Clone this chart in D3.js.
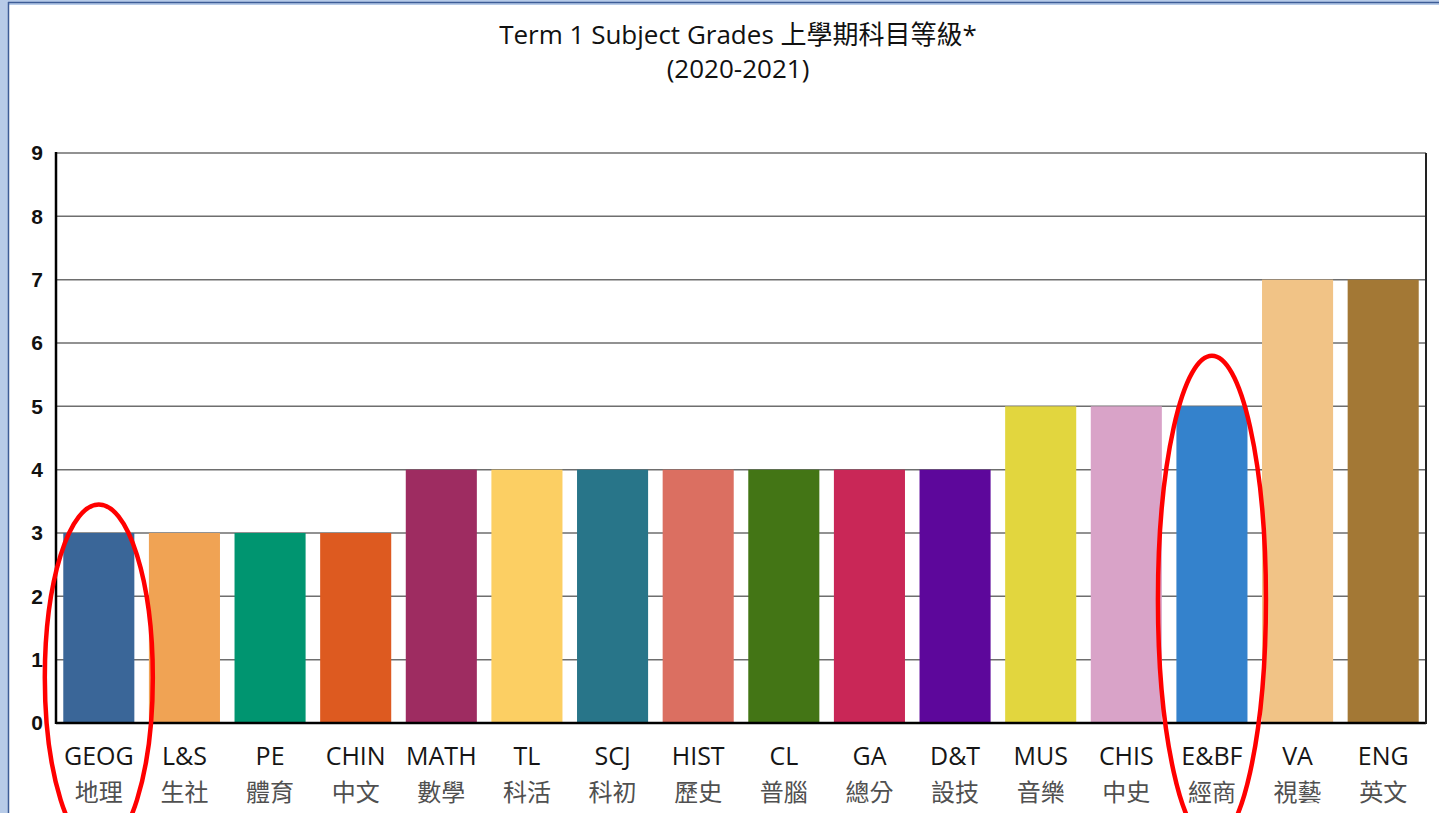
<!DOCTYPE html>
<html>
<head>
<meta charset="utf-8">
<script src="https://cdn.jsdelivr.net/npm/d3@7"></script>
<style>
  body { margin: 0; background: #fff; }
  svg { display: block; }
</style>
</head>
<body>
<div id="chart"></div>
<script>
// data
const subjects = ["GEOG", "L&S", "PE", "CHIN", "MATH", "TL", "SCJ", "HIST", "CL", "GA", "D&T", "MUS", "CHIS", "E&BF", "VA", "ENG"];
const subjectsZh = ["地理", "生社", "體育", "中文", "數學", "科活", "科初", "歷史", "普腦", "總分", "設技", "音樂", "中史", "經商", "視藝", "英文"];
const grades = [3, 3, 3, 3, 4, 4, 4, 4, 4, 4, 4, 5, 5, 5, 7, 7];
const barColors = ["#3a6698", "#f0a354", "#009570", "#dd5a20", "#9e2c61", "#fccf63", "#287589", "#db6f61",
                   "#437515", "#c92757", "#5d079b", "#e2d63e", "#d9a3c8", "#3482cc", "#f1c386", "#a37835"];
const yTicks = [0, 1, 2, 3, 4, 5, 6, 7, 8, 9];
const circled = ["GEOG", "E&BF"];

const width = 1439, height = 813,
    margin = {top: 153, bottom: 90, left: 56, right: 13};

const svg = d3.select("#chart")
    .append("svg")
    .attr("width", width)
    .attr("height", height);

// window frame
svg.append("rect").attr("x", 0).attr("y", 0).attr("width", 8).attr("height", height).attr("fill", "#b7cbe8");
svg.append("rect").attr("x", 0).attr("y", 0).attr("width", width).attr("height", 5).attr("fill", "#b7cbe8");
svg.append("line").attr("x1", 8.5).attr("x2", 8.5).attr("y1", 2).attr("y2", height)
    .attr("stroke", "#3d5c96").attr("stroke-width", 1.5);
svg.append("line").attr("x1", 8).attr("x2", width).attr("y1", 2.5).attr("y2", 2.5)
    .attr("stroke", "#3d5c96").attr("stroke-width", 1.5);

const xScale = d3.scaleBand()
    .domain(subjects)
    .range([margin.left, width - margin.right])
    .paddingInner(0.17)
    .paddingOuter(0.085);

const yScale = d3.scaleLinear()
    .domain([0, 9])
    .range([height - margin.bottom, margin.top]);

const colorScale = d3.scaleOrdinal().domain(subjects).range(barColors);

// title
const title = svg.append("text")
    .attr("text-anchor", "middle")
    .attr("font-family", "'Open Sans', 'Noto Sans CJK TC', sans-serif")
    .attr("font-size", 26)
    .attr("fill", "#111");
title.append("tspan").attr("x", 738).attr("y", 44).text("Term 1 Subject Grades 上學期科目等級*");
title.append("tspan").attr("x", 738).attr("y", 78).text("(2020-2021)");

// grid lines
svg.append("g")
    .selectAll("line")
    .data(yTicks.filter(d => d > 0))
    .join("line")
    .attr("x1", margin.left)
    .attr("x2", width - margin.right)
    .attr("y1", d => yScale(d))
    .attr("y2", d => yScale(d))
    .attr("stroke", "#6e6e6e")
    .attr("stroke-width", 1.5);

// bars
svg.append("g")
    .selectAll("rect")
    .data(subjects)
    .join("rect")
    .attr("x", d => xScale(d))
    .attr("y", (d, i) => yScale(grades[i]))
    .attr("width", xScale.bandwidth())
    .attr("height", (d, i) => yScale(0) - yScale(grades[i]))
    .attr("fill", d => colorScale(d));

// axes frame
svg.append("line")
    .attr("x1", margin.left).attr("x2", margin.left)
    .attr("y1", yScale(9) - 1).attr("y2", yScale(0) + 1)
    .attr("stroke", "#000").attr("stroke-width", 2.5);
svg.append("line")
    .attr("x1", margin.left).attr("x2", width - margin.right)
    .attr("y1", yScale(0)).attr("y2", yScale(0))
    .attr("stroke", "#000").attr("stroke-width", 2.5);
svg.append("line")
    .attr("x1", width - margin.right).attr("x2", width - margin.right)
    .attr("y1", yScale(9)).attr("y2", yScale(0) + 1)
    .attr("stroke", "#222").attr("stroke-width", 2);

// y tick labels
svg.append("g")
    .selectAll("text")
    .data(yTicks)
    .join("text")
    .attr("x", 43)
    .attr("y", d => yScale(d))
    .attr("dy", "0.35em")
    .attr("text-anchor", "end")
    .attr("font-family", "'Liberation Sans', Arial, sans-serif")
    .attr("font-weight", "bold")
    .attr("font-size", 21)
    .attr("fill", "#111")
    .text(d => d);

// x labels
const labels = svg.append("g")
    .selectAll("g")
    .data(subjects)
    .join("g")
    .attr("transform", d => `translate(${xScale(d) + xScale.bandwidth() / 2},0)`)
    .attr("font-family", "'Open Sans', 'Noto Sans CJK TC', sans-serif")
    .attr("text-anchor", "middle");
labels.append("text")
    .attr("y", 765)
    .attr("font-size", 25)
    .attr("fill", "#161616")
    .text(d => d);
labels.append("text")
    .attr("y", 801)
    .attr("font-family", "'Noto Sans CJK TC', sans-serif")
    .attr("font-size", 24)
    .attr("fill", "#505050")
    .text((d, i) => subjectsZh[i]);

// red circles around the highlighted subjects (top edge and height as drawn)
const ellipseTop = {"GEOG": 3.45, "E&BF": 5.8};
const ellipseRy = {"GEOG": 173, "E&BF": 244};
svg.append("g")
    .selectAll("ellipse")
    .data(circled)
    .join("ellipse")
    .attr("cx", d => xScale(d) + xScale.bandwidth() / 2)
    .attr("cy", d => yScale(ellipseTop[d]) + ellipseRy[d])
    .attr("rx", 54)
    .attr("ry", d => ellipseRy[d])
    .attr("fill", "none")
    .attr("stroke", "#ff0000")
    .attr("stroke-width", 4.5);
</script>
</body>
</html>
